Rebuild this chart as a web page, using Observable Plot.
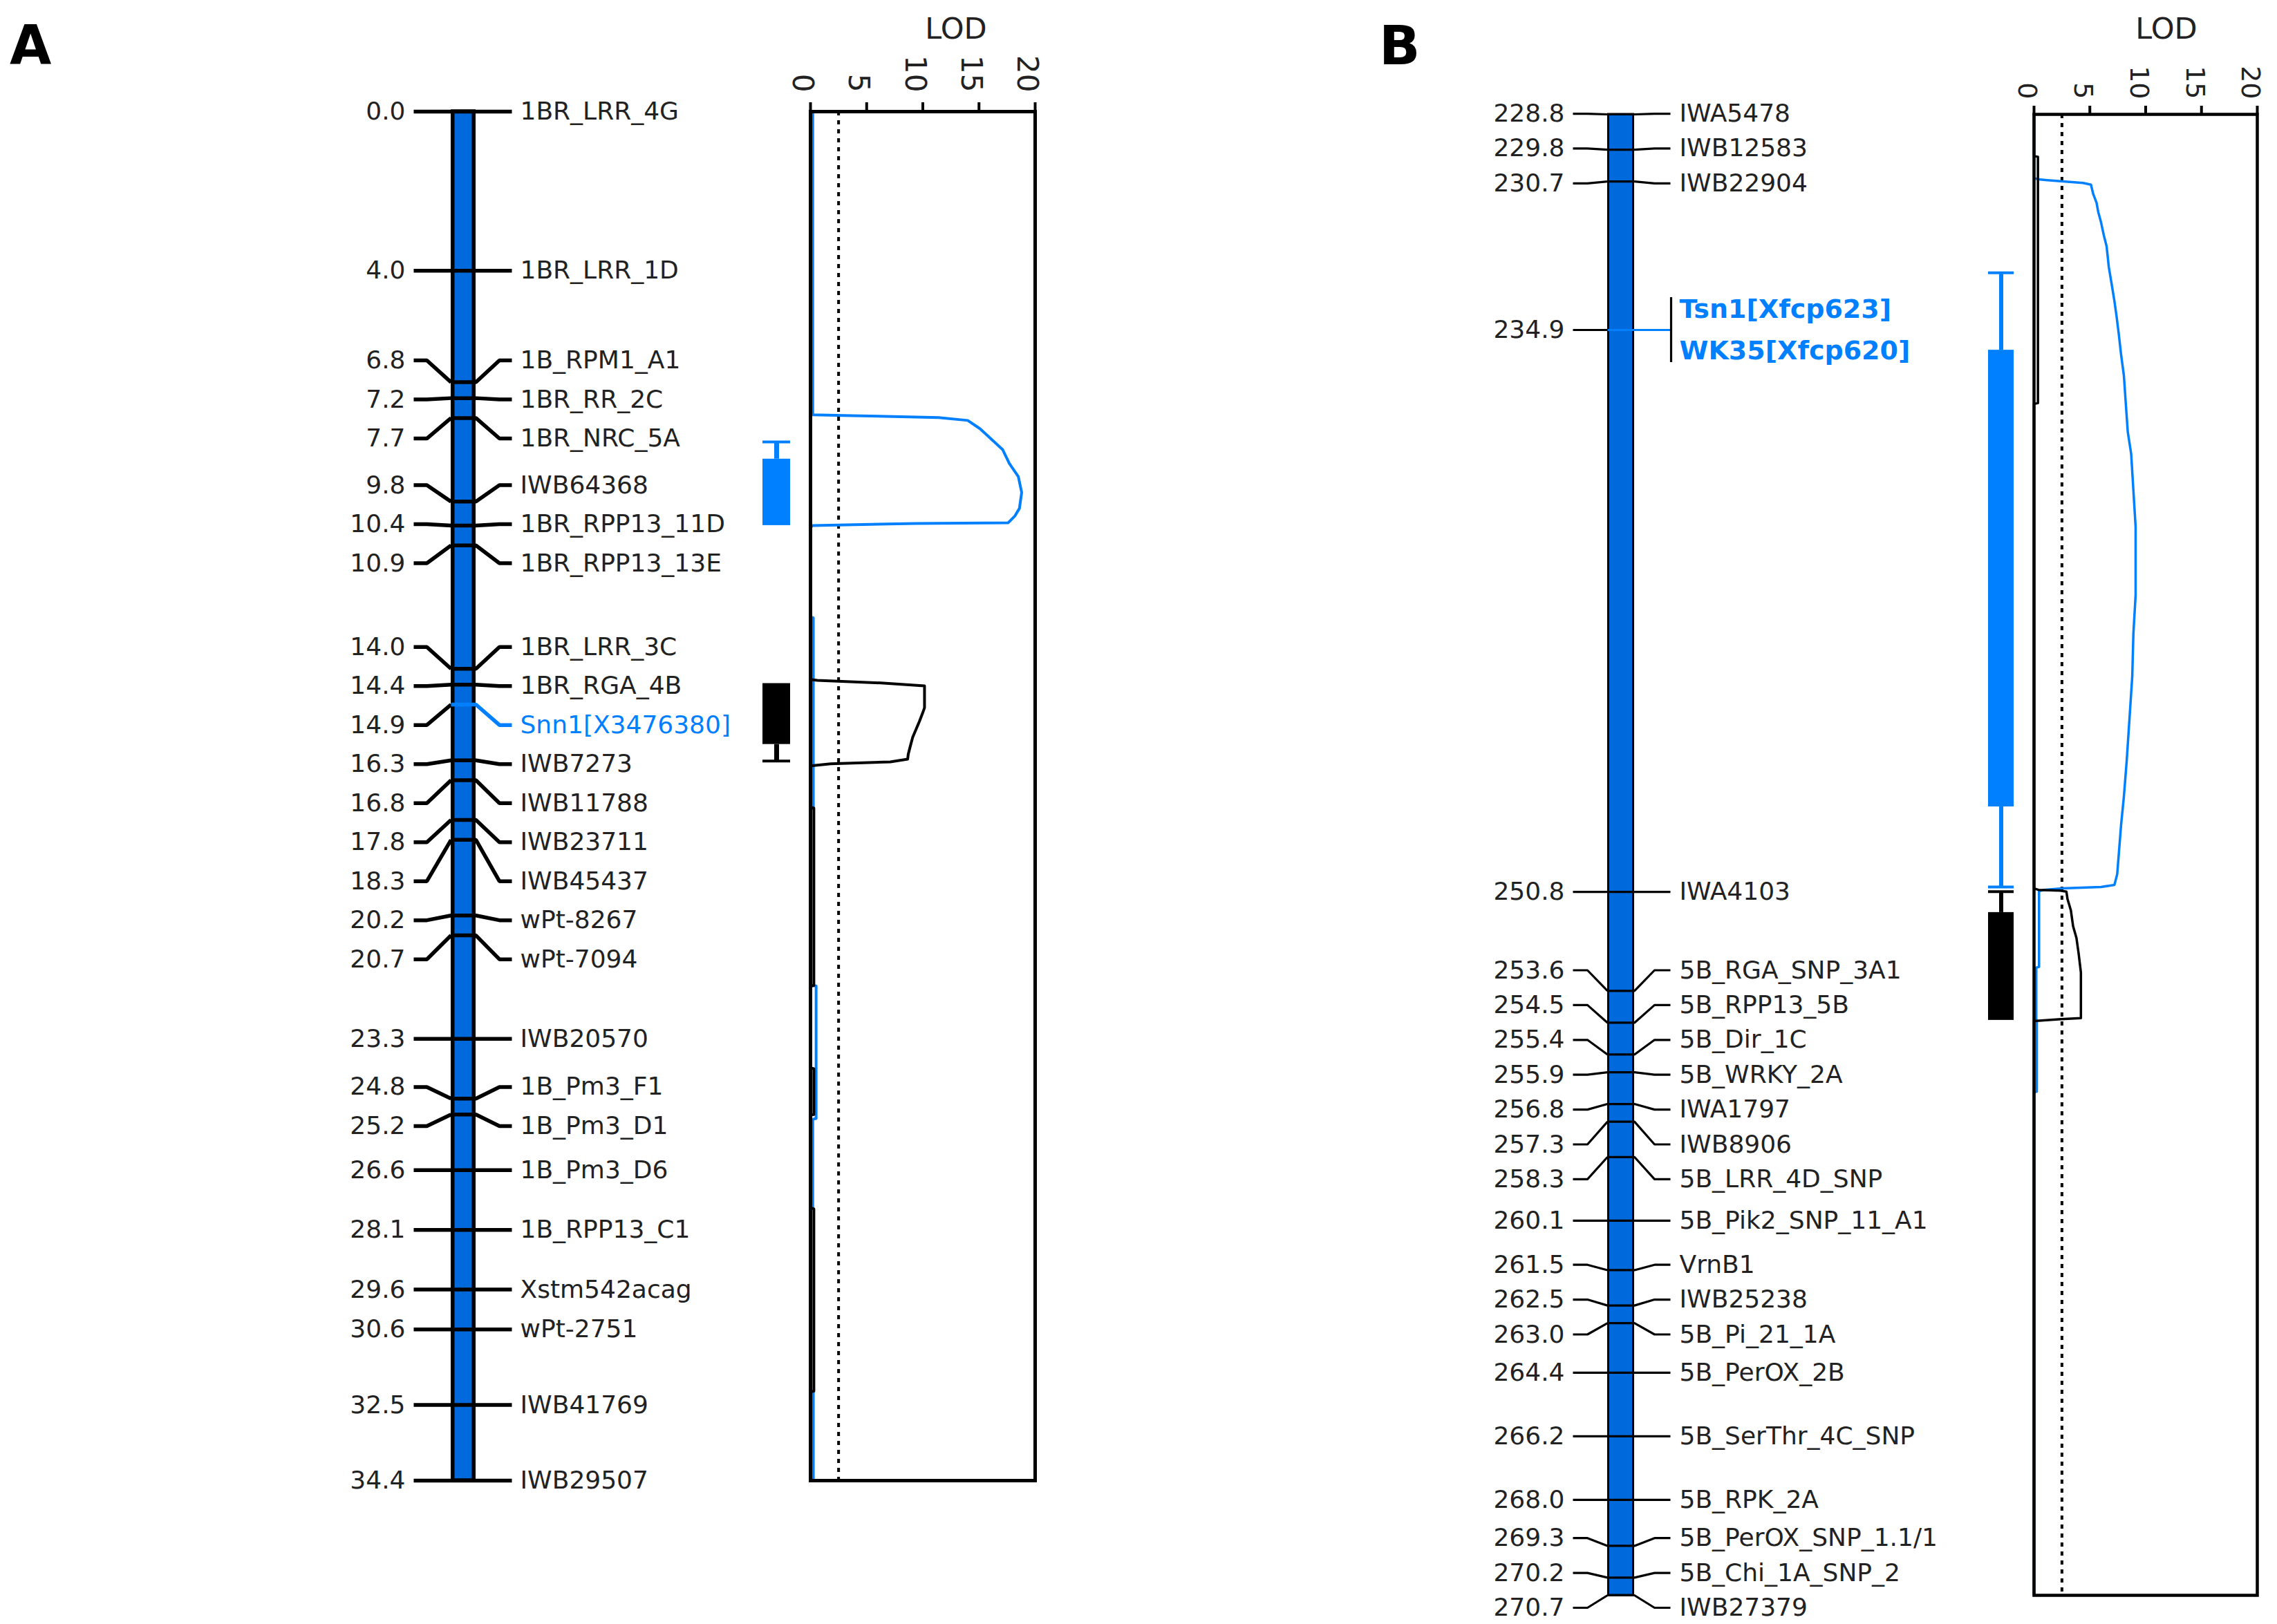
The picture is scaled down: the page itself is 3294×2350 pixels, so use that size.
<!DOCTYPE html>
<html><head><meta charset="utf-8">
<script src="https://cdn.jsdelivr.net/npm/d3@7"></script>
<script src="https://cdn.jsdelivr.net/npm/@observablehq/plot@0.6"></script>
<style>
html,body{margin:0;padding:0;background:#fff;}
#root{position:relative;width:3294px;height:2350px;overflow:hidden;background:#fff;}
#root svg{position:absolute;top:0;}
.letter{position:absolute;font:bold 78px "DejaVu Sans",sans-serif;line-height:1;color:#000;}
</style></head>
<body><div id="root"></div>
<script>
// ---------------- DATA ----------------
// Panel A : chromosome 1B (cM)
const markersA = ["1BR_LRR_4G","1BR_LRR_1D","1B_RPM1_A1","1BR_RR_2C","1BR_NRC_5A","IWB64368","1BR_RPP13_11D","1BR_RPP13_13E","1BR_LRR_3C","1BR_RGA_4B","IWB7273","IWB11788","IWB23711","IWB45437","wPt-8267","wPt-7094","IWB20570","1B_Pm3_F1","1B_Pm3_D1","1B_Pm3_D6","1B_RPP13_C1","Xstm542acag","wPt-2751","IWB41769","IWB29507"];
const posA = [0.0,4.0,6.8,7.2,7.7,9.8,10.4,10.9,14.0,14.4,16.3,16.8,17.8,18.3,20.2,20.7,23.3,24.8,25.2,26.6,28.1,29.6,30.6,32.5,34.4];
const genesA = ["Snn1[X3476380]"];
const genePosA = [14.9];

// Panel B : chromosome 5B (cM)
const markersB = ["IWA5478","IWB12583","IWB22904","IWA4103","5B_RGA_SNP_3A1","5B_RPP13_5B","5B_Dir_1C","5B_WRKY_2A","IWA1797","IWB8906","5B_LRR_4D_SNP","5B_Pik2_SNP_11_A1","VrnB1","IWB25238","5B_Pi_21_1A","5B_PerOX_2B","5B_SerThr_4C_SNP","5B_RPK_2A","5B_PerOX_SNP_1.1/1","5B_Chi_1A_SNP_2","IWB27379"];
const posB = [228.8,229.8,230.7,250.8,253.6,254.5,255.4,255.9,256.8,257.3,258.3,260.1,261.5,262.5,263.0,264.4,266.2,268.0,269.3,270.2,270.7];
const genesB = ["Tsn1[Xfcp623]","WK35[Xfcp620]"];
const genePosB = [234.9,234.9];

// LOD profiles
const lodA_blue_pos = [0,7.62,7.64,7.69,7.76,7.97,8.23,8.49,8.84,9.17,9.57,9.97,10.16,10.33,10.35,10.40,10.45,12.70,12.72,17.50,17.52,21.95,21.97,25.30,25.32,27.55,27.57,32.15,32.17,34.4];
const lodA_blue_val = [0.2,0.2,3.7,11.4,14.0,15.1,16.1,17.1,17.7,18.5,18.8,18.6,18.2,17.6,9.4,0.2,0,0,0.25,0.25,0,0,0.5,0.5,0.2,0.2,0,0,0.25,0.25];
const lodA_black_pos = [0,14.27,14.29,14.36,14.43,14.98,15.10,15.32,15.52,15.72,15.93,16.15,16.27,16.34,16.39,16.44,17.48,17.50,21.96,21.98,24.03,24.05,25.20,25.22,27.55,27.57,32.15,32.17,34.4];
const lodA_black_val = [0,0,0.6,6.5,10.15,10.15,10.0,9.7,9.4,9.1,8.9,8.7,8.65,7.1,1.8,0,0,0.3,0.3,0,0,0.3,0.3,0,0,0.3,0.3,0,0];

const lodB_blue_pos = [228.8,230.60,230.64,230.66,230.74,230.79,231.05,231.30,231.56,231.85,232.22,232.53,233.12,233.69,234.08,234.53,235.04,235.60,236.19,236.89,237.79,238.40,240.47,242.40,243.50,244.70,245.90,247.10,248.10,248.90,250.30,250.60,250.66,250.70,250.74,250.78,252.92,252.94,254.40,254.45,256.45,256.47,270.7];
const lodB_blue_val = [0,0,0.4,1.2,4.4,5.1,5.3,5.6,5.75,6.0,6.25,6.5,6.7,7.0,7.2,7.4,7.6,7.8,8.05,8.2,8.4,8.7,9.1,9.1,8.9,8.8,8.55,8.3,8.05,7.8,7.45,7.2,6.0,2.5,0.9,0.45,0.45,0.2,0.2,0.25,0.25,0,0];
const lodB_black_pos = [228.8,229.98,230.00,236.97,236.99,250.70,250.74,250.76,250.79,251.00,251.32,251.77,252.10,252.55,253.08,254.37,254.40,254.45,270.7];
const lodB_black_val = [0,0,0.35,0.35,0,0,0.4,2.35,2.9,3.0,3.3,3.5,3.8,4.0,4.2,4.2,2.4,0,0];

const lodThreshold = 2.5;
const lodTicks = [0,5,10,15,20];

// QTL confidence intervals (whisker = outer, box = inner)
const ciSeriesA = ["blue","black"];
const ciOuterLoA = [8.30,14.37];
const ciOuterHiA = [10.40,16.32];
const ciBoxLoA = [8.73,14.37];
const ciBoxHiA = [10.40,15.90];

const ciSeriesB = ["blue","black"];
const ciOuterLoB = [233.28,250.79];
const ciOuterHiB = [250.66,254.43];
const ciBoxLoB = [235.47,251.38];
const ciBoxHiB = [248.39,254.43];

// ---------------- STYLE ----------------
const BLUE = "#0080FF";
const BAR_BLUE = "#0069DB";
const INK = "#000";
const TEXT = "#222";
const SERIES_COLOR = {blue: BLUE, black: INK};
const FONT = "DejaVu Sans";
const H = 2350;

function spreadLabels(pos, k, s) {
  const px = pos.map(p => p * k);
  const groups = [];
  let cur = [0];
  for (let i = 1; i < px.length; i++) {
    if (px[i] - px[i - 1] < s + 0.9) cur.push(i);
    else { groups.push(cur); cur = [i]; }
  }
  groups.push(cur);
  const out = [];
  let prev = -Infinity;
  for (const g of groups) {
    const mean = d3.mean(g, i => px[i]);
    const start = Math.max(mean - (g.length - 1) * s / 2, prev + s);
    g.forEach((i, j) => out[i] = start + j * s);
    prev = start + (g.length - 1) * s;
  }
  return out.map(v => v / k);
}

function mapPanel(cfg) {
  const {markers, pos, genes, genePos, domain, mt, mb, width, L} = cfg;
  const k = (H - mt - mb) / (domain[1] - domain[0]);
  const bySlot = new Map();
  const add = (p, item) => { if (!bySlot.has(p)) bySlot.set(p, []); bySlot.get(p).push(item); };
  markers.forEach((m, i) => add(pos[i], {name: m, gene: false}));
  genes.forEach((g, i) => add(genePos[i], {name: g, gene: true}));
  const slots = Array.from(bySlot, ([p, names]) => ({pos: p, names})).sort((a, b) => a.pos - b.pos);
  const ly = spreadLabels(slots.map(d => d.pos), k, cfg.spacing);
  slots.forEach((d, i) => d.ly = ly[i]);

  const lines = [], labels = [], boldLabels = [], brackets = [];
  slots.forEach((d, i) => {
    const gene = d.names.some(n => n.gene);
    const c = gene ? BLUE : INK;
    lines.push({id: i + "L", x: L.l0, y: d.ly, c: INK}, {id: i + "L", x: L.l1, y: d.ly, c: INK}, {id: i + "L", x: L.barL, y: d.pos, c: INK});
    if (d.names.length > 1) {
      lines.push({id: i + "R", x: L.barL, y: d.pos, c}, {id: i + "R", x: L.barR, y: d.pos, c}, {id: i + "R", x: L.r1, y: d.ly, c}, {id: i + "R", x: L.bracket, y: d.ly, c});
      const n = d.names.length;
      d.names.forEach((nm, j) => boldLabels.push({name: nm.name, y: d.ly + (j - (n - 1) / 2) * cfg.geneGap / k}));
      brackets.push({y1: d.ly - cfg.bracketHalf / k, y2: d.ly + cfg.bracketHalf / k});
    } else {
      lines.push({id: i + "R", x: L.barL, y: d.pos, c}, {id: i + "R", x: L.barR, y: d.pos, c}, {id: i + "R", x: L.r1, y: d.ly, c}, {id: i + "R", x: L.r0, y: d.ly, c});
      labels.push({name: d.names[0].name, y: d.ly, c: gene ? BLUE : TEXT});
    }
  });

  const ci = cfg.ciSeries.map((s, i) => ({c: SERIES_COLOR[s], outerLo: cfg.ciOuterLo[i], outerHi: cfg.ciOuterHi[i], boxLo: cfg.ciBoxLo[i], boxHi: cfg.ciBoxHi[i]}));
  const whiskers = [], caps = [];
  ci.forEach(r => {
    if (r.outerLo < r.boxLo) { whiskers.push({c: r.c, y1: r.outerLo, y2: r.boxLo}); caps.push({c: r.c, y: r.outerLo}); }
    if (r.outerHi > r.boxHi) { whiskers.push({c: r.c, y1: r.boxHi, y2: r.outerHi}); caps.push({c: r.c, y: r.outerHi}); }
  });

  return Plot.plot({
    width, height: H, marginTop: mt, marginBottom: mb, marginLeft: 0, marginRight: 0,
    x: {type: "identity", axis: null},
    y: {domain, reverse: true, axis: null},
    color: {type: "identity"},
    style: {background: "transparent", fontFamily: FONT, overflow: "visible"},
    marks: [
      Plot.rect([domain], {x1: L.barL + cfg.barStroke / 2, x2: L.barR - cfg.barStroke / 2, y1: d => d[0], y2: d => d[1], fill: BAR_BLUE, stroke: INK, strokeWidth: cfg.barStroke}),
      Plot.line(lines, {x: "x", y: "y", z: "id", stroke: "c", strokeWidth: cfg.lw, strokeLinejoin: "miter", strokeLinecap: "butt"}),
      Plot.ruleX(brackets, {x: L.bracket, y1: "y1", y2: "y2", stroke: INK, strokeWidth: cfg.lw}),
      Plot.text(slots, {x: L.valueRight, y: "ly", text: d => d.pos.toFixed(1), textAnchor: "end", fontSize: cfg.fontSize, fill: TEXT}),
      Plot.text(labels, {x: L.nameX, y: "y", text: "name", textAnchor: "start", fontSize: cfg.fontSize, fill: "c"}),
      Plot.text(boldLabels, {x: L.nameX, y: "y", text: "name", textAnchor: "start", fontSize: cfg.fontSize + 2, fontWeight: "bold", fill: BLUE}),
      Plot.ruleX(whiskers, {x: (L.boxL + L.boxR) / 2, y1: "y1", y2: "y2", stroke: "c", strokeWidth: cfg.stemW}),
      Plot.rect(ci, {x1: L.boxL, x2: L.boxR, y1: "boxLo", y2: "boxHi", fill: "c"}),
      Plot.ruleY(caps, {y: "y", x1: L.boxL, x2: L.boxR, stroke: "c", strokeWidth: 4})
    ]
  });
}

function lodPanel(cfg) {
  const blue = cfg.bluePos.map((p, i) => ({cM: p, lod: cfg.blueVal[i]}));
  const black = cfg.blackPos.map((p, i) => ({cM: p, lod: cfg.blackVal[i]}));
  return Plot.plot({
    width: cfg.width, height: H, marginTop: cfg.mt, marginBottom: cfg.mb, marginLeft: cfg.ml, marginRight: cfg.mr,
    x: {domain: [0, 20]},
    y: {domain: cfg.domain, reverse: true, axis: null},
    style: {background: "transparent", fontFamily: FONT, overflow: "visible"},
    marks: [
      Plot.ruleX([lodThreshold], {stroke: INK, strokeWidth: 4, strokeDasharray: "6,7"}),
      Plot.line(blue, {x: "lod", y: "cM", stroke: BLUE, strokeWidth: cfg.lw}),
      Plot.line(black, {x: "lod", y: "cM", stroke: INK, strokeWidth: cfg.lw}),
      Plot.frame({stroke: INK, strokeWidth: cfg.frameW}),
      Plot.axisX({anchor: "top", ticks: lodTicks, tickSize: cfg.tickSize, strokeWidth: 4, tickFormat: () => "", label: null}),
      Plot.axisX({anchor: "top", ticks: lodTicks, tickSize: 0, tickRotate: 90, tickPadding: cfg.tickPad, fontSize: cfg.tickFont, dx: cfg.tickDx, label: null, fill: TEXT}),
      Plot.text(["LOD"], {frameAnchor: "top", text: d => d, dx: cfg.titleDx, dy: cfg.titleDy, fontSize: 43, fill: TEXT})
    ]
  });
}

const root = document.getElementById("root");
function place(svg, left) { svg.style.left = left + "px"; root.appendChild(svg); }

place(mapPanel({
  markers: markersA, pos: posA, genes: genesA, genePos: genePosA,
  domain: [0, 34.4], mt: 161, mb: 208, width: 1170,
  L: {valueRight: 586, l0: 598, l1: 617, barL: 652, barR: 688, r1: 722, r0: 740, nameX: 752, bracket: 741, boxL: 1103, boxR: 1143},
  spacing: 56.5, geneGap: 60, bracketHalf: 47, lw: 5.5, barStroke: 5.5, fontSize: 36, stemW: 7,
  ciSeries: ciSeriesA, ciOuterLo: ciOuterLoA, ciOuterHi: ciOuterHiA, ciBoxLo: ciBoxLoA, ciBoxHi: ciBoxHiA
}), 0);

place(lodPanel({
  domain: [0, 34.4], mt: 161, mb: 208, width: 440, ml: 92, mr: 23,
  bluePos: lodA_blue_pos, blueVal: lodA_blue_val, blackPos: lodA_black_pos, blackVal: lodA_black_val,
  lw: 4, frameW: 5, tickSize: 14, tickPad: 28, tickFont: 42, tickDx: -12, titleDx: 48, titleDy: -136
}), 1080);

place(mapPanel({
  markers: markersB, pos: posB, genes: genesB, genePos: genePosB,
  domain: [228.8, 270.7], mt: 165, mb: 42, width: 1040,
  L: {valueRight: 363, l0: 375, l1: 396, barL: 425, barR: 464, r1: 493, r0: 516, nameX: 529, bracket: 517, boxL: 976, boxR: 1013},
  spacing: 50.4, geneGap: 60, bracketHalf: 47, lw: 3.2, barStroke: 3, fontSize: 36, stemW: 6,
  ciSeries: ciSeriesB, ciOuterLo: ciOuterLoB, ciOuterHi: ciOuterHiB, ciBoxLo: ciBoxLoB, ciBoxHi: ciBoxHiB
}), 1900);

place(lodPanel({
  domain: [228.8, 270.7], mt: 165, mb: 42, width: 444, ml: 92, mr: 29,
  bluePos: lodB_blue_pos, blueVal: lodB_blue_val, blackPos: lodB_black_pos, blackVal: lodB_black_val,
  lw: 3.5, frameW: 4.5, tickSize: 13, tickPad: 22, tickFont: 38, tickDx: -10, titleDx: 30, titleDy: -140
}), 2850);

for (const [t, left, top] of [["A", 14, 26], ["B", 1995, 27]]) {
  const d = document.createElement("div");
  d.className = "letter"; d.textContent = t;
  d.style.left = left + "px"; d.style.top = top + "px";
  root.appendChild(d);
}
</script>
</body></html>
